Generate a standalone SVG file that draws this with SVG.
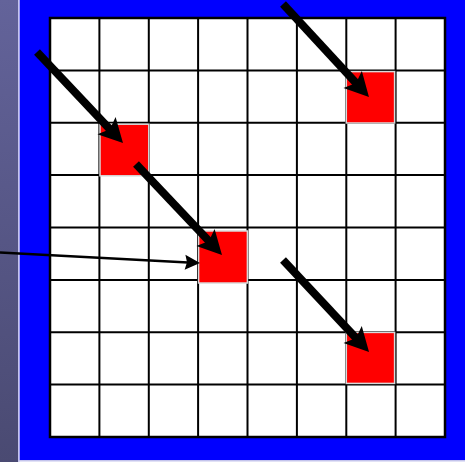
<svg xmlns="http://www.w3.org/2000/svg" width="465" height="462" viewBox="0 0 465 462">
  <defs>
    <linearGradient id="strip" x1="0" y1="0" x2="0" y2="1">
      <stop offset="0" stop-color="#63639a"/>
      <stop offset="1" stop-color="#4a4a72"/>
    </linearGradient>
    <marker id="thick" viewBox="-10 -14 30 28" markerWidth="30" markerHeight="28" refX="0" refY="0" markerUnits="userSpaceOnUse" orient="auto" overflow="visible">
      <path d="M16,0 L-8,-12.5 L-3,0 L-8,12.5 Z" fill="#000"/>
    </marker>
    <marker id="thin" viewBox="-6 -9 22 18" markerWidth="22" markerHeight="18" refX="0" refY="0" markerUnits="userSpaceOnUse" orient="auto" overflow="visible">
      <path d="M12,0 L-3,-7.5 L-1,0 L-3,7.5 Z" fill="#000"/>
    </marker>
    <style>
      .grid line { stroke: #000; stroke-width: 2; }
      .cell { fill: #fff; stroke: #000; stroke-width: 2.5; }
      .red { fill: #ff0000; stroke: #d9d9d9; stroke-width: 1.5; }
      .arrow { stroke: #000; stroke-width: 8; fill: none; marker-end: url(#thick); }
      .thinarrow { stroke: #000; stroke-width: 2.5; fill: none; marker-end: url(#thin); }
    </style>
  </defs>

  <g id="background">
    <rect x="0" y="0" width="19" height="462" fill="url(#strip)"/>
    <rect x="19.5" y="0" width="445.5" height="460" fill="#0000ff"/>
    <line x1="18.7" y1="0" x2="18.7" y2="462" stroke="#c4c4ec" stroke-width="1.4"/>
    <line x1="19" y1="460.8" x2="465" y2="460.8" stroke="#c4c4ec" stroke-width="1.4"/>
  </g>

  <g id="grid" class="grid">
    <rect class="cell" x="50" y="18" width="395" height="419"/>
    <line x1="99.4" y1="18" x2="99.4" y2="437"/>
    <line x1="148.8" y1="18" x2="148.8" y2="437"/>
    <line x1="198.1" y1="18" x2="198.1" y2="437"/>
    <line x1="247.5" y1="18" x2="247.5" y2="437"/>
    <line x1="296.9" y1="18" x2="296.9" y2="437"/>
    <line x1="346.3" y1="18" x2="346.3" y2="437"/>
    <line x1="395.6" y1="18" x2="395.6" y2="437"/>
    <line x1="50" y1="70.6" x2="445" y2="70.6"/>
    <line x1="50" y1="122.8" x2="445" y2="122.8"/>
    <line x1="50" y1="175.1" x2="445" y2="175.1"/>
    <line x1="50" y1="227.5" x2="445" y2="227.5"/>
    <line x1="50" y1="279.9" x2="445" y2="279.9"/>
    <line x1="50" y1="332.2" x2="445" y2="332.2"/>
    <line x1="50" y1="384.6" x2="445" y2="384.6"/>
  </g>

  <g id="target-1"><rect class="red" x="346.3" y="71.6" width="48.3" height="51.4"/></g>
  <g id="target-2"><rect class="red" x="100" y="124.2" width="48.8" height="51.6"/></g>
  <g id="target-3"><rect class="red" x="198.6" y="231" width="48.8" height="52"/></g>
  <g id="target-4"><rect class="red" x="346.3" y="332.4" width="48.3" height="51"/></g>

  <g id="connectors">
    <line class="arrow" x1="37" y1="52" x2="112" y2="131.4"/>
    <line class="arrow" x1="283" y1="4" x2="358.1" y2="85.3"/>
    <line class="arrow" x1="136" y1="164" x2="211" y2="243.3"/>
    <line class="arrow" x1="283" y1="260" x2="358.1" y2="340.3"/>
    <line class="thinarrow" x1="0" y1="252.5" x2="188" y2="262.4"/>
  </g>
</svg>
